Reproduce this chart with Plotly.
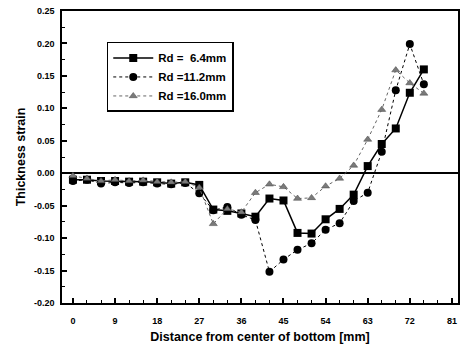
import plotly.graph_objects as go

x_mm = [0, 3, 6, 9, 12, 15, 18, 21, 24, 27, 30, 33, 36, 39, 42, 45, 48, 51, 54, 57, 60, 63, 66, 69, 72, 75]

rd_6_4 = [-0.010, -0.010, -0.012, -0.012, -0.013, -0.013, -0.014, -0.016, -0.014, -0.018,
          -0.056, -0.058, -0.062, -0.067, -0.039, -0.042, -0.092, -0.093, -0.071, -0.055,
          -0.033, 0.011, 0.045, 0.069, 0.124, 0.160]
rd_11_2 = [-0.012, -0.010, -0.016, -0.014, -0.015, -0.014, -0.016, -0.017, -0.015, -0.031,
           -0.057, -0.052, -0.064, -0.072, -0.152, -0.133, -0.118, -0.108, -0.087, -0.077,
           -0.043, -0.030, 0.033, 0.128, 0.199, 0.137]
rd_16_0 = [-0.004, -0.008, -0.012, -0.010, -0.012, -0.011, -0.013, -0.014, -0.013, -0.022,
           -0.078, -0.055, -0.060, -0.030, -0.017, -0.021, -0.039, -0.038, -0.020, -0.008,
           0.012, 0.052, 0.098, 0.159, 0.139, 0.123]

names = ["Rd =  6.4mm", "Rd =11.2mm", "Rd =16.0mm"]
x_ticks = [0, 9, 18, 27, 36, 45, 54, 63, 72, 81]
y_ticks = [-0.20, -0.15, -0.10, -0.05, 0.00, 0.05, 0.10, 0.15, 0.20, 0.25]

FONT = "Arial, Liberation Sans, sans-serif"

fig = go.Figure()
fig.add_trace(go.Scatter(x=x_mm, y=rd_6_4, name=names[0], mode="lines+markers",
                         line=dict(color="black", width=1.5),
                         marker=dict(symbol="square", size=8, color="black")))
fig.add_trace(go.Scatter(x=x_mm, y=rd_11_2, name=names[1], mode="lines+markers",
                         line=dict(color="black", width=1, dash="dot"),
                         marker=dict(symbol="circle", size=8, color="black")))
fig.add_trace(go.Scatter(x=x_mm, y=rd_16_0, name=names[2], mode="lines+markers",
                         line=dict(color="#666666", width=1, dash="dot"),
                         marker=dict(symbol="triangle-up", size=7, color="#7a7a7a",
                                     line=dict(color="#444444", width=0.5))))

fig.update_layout(
    width=464, height=352,
    margin=dict(l=62, r=4, t=11, b=49),
    paper_bgcolor="white", plot_bgcolor="white",
    font=dict(family=FONT, size=9, color="black", weight="bold"),
    showlegend=True,
    legend=dict(x=0.113, y=0.894, xanchor="left", yanchor="top",
                bordercolor="black", borderwidth=1.5, bgcolor="white",
                font=dict(size=11.5, family=FONT, weight="bold"),
                tracegroupgap=0, itemwidth=40, entrywidth=100, entrywidthmode="pixels"),
)
fig.update_xaxes(
    range=[-2.34, 82.3], tickmode="array", tickvals=x_ticks,
    ticktext=[str(v) for v in x_ticks],
    ticks="inside", ticklen=5, tickwidth=1.5, tickcolor="black",
    minor=dict(dtick=3, tick0=0, ticks="inside", ticklen=3, tickcolor="black", tickwidth=1),
    showline=True, linecolor="black", linewidth=1.5, mirror=True,
    showgrid=False, zeroline=False, ticklabelstandoff=8,
    title=dict(text="Distance from center of bottom [mm]",
               font=dict(size=12.5, family=FONT, weight="bold"), standoff=8),
)
fig.update_yaxes(
    range=[-0.20, 0.25], tickmode="array", tickvals=y_ticks,
    ticktext=[f"{v:.2f}" for v in y_ticks],
    ticks="inside", ticklen=5, tickwidth=1.5, tickcolor="black",
    minor=dict(dtick=0.025, tick0=0, ticks="inside", ticklen=3, tickcolor="black", tickwidth=1),
    showline=True, linecolor="black", linewidth=1.5, mirror=True,
    showgrid=False, zeroline=True, zerolinecolor="black", zerolinewidth=1.5,
    ticklabelstandoff=4,
    title=dict(text="Thickness strain", font=dict(size=12.5, family=FONT, weight="bold"), standoff=6),
)

fig.write_html("out.html")
